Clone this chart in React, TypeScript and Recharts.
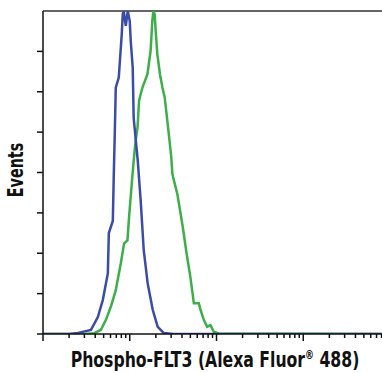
import { LineChart, Line, XAxis, YAxis, ReferenceLine } from "recharts";

// fluorescence intensity (x) and event counts (y)
const blueIntensity = [1, 2, 2.53, 3.57, 4.29, 4.89, 5.59, 5.74, 6.38, 6.55, 6.72, 6.9, 7.47, 8.09, 8.31, 8.53, 9.0, 9.49, 10, 10.27, 10.82, 11.1, 12.36, 13.37, 14.5, 16.1, 18.4, 21.0, 24.6, 32, 8000];
const blueEvents = [0, 0, 0.5, 2, 8.4, 16.8, 30, 50, 56, 79.5, 99, 122, 127, 148.6, 158.5, 160, 152.6, 160, 155, 145, 132, 107, 86, 66, 41.5, 25, 12, 3.5, 0.5, 0, 0];

const greenIntensity = [1, 3, 3.89, 4.64, 5.3, 6.05, 6.9, 7.88, 8.6, 9.41, 9.82, 10.54, 11.2, 11.7, 12.3, 12.8, 14.0, 16.0, 17.4, 18.2, 18.7, 19.4, 19.9, 20.8, 22.3, 23.8, 25.3, 27.1, 29.0, 30.1, 31.0, 32.3, 35.3, 38.6, 41.4, 45.2, 49.3, 53.0, 54.8, 62.6, 65.5, 71.5, 78.2, 85.3, 93.1, 106, 8000];
const greenEvents = [0, 0, 0.4, 2, 6.9, 13.5, 21.7, 34.9, 44.8, 46.4, 57.9, 74.4, 87.6, 95.8, 102.4, 115.6, 122.1, 128.7, 140.3, 155, 159.8, 158.4, 150.2, 138.6, 128.7, 122.1, 117.2, 105.7, 94.2, 87.6, 79.4, 76.1, 69.5, 59.6, 51.4, 39.9, 30, 20.1, 15.2, 15.2, 11.9, 6.9, 3.6, 4.4, 1.1, 0.3, 0];

const decades = [1, 10, 100, 1000];
const steps = [1, 2, 3, 4, 5, 6, 7, 8, 9];
const xTicks = decades.flatMap((d) => steps.map((s) => d * s));
const yTicks = [0, 20, 40, 60, 80, 100, 120, 140];

const blueData = blueIntensity.map((x, i) => ({ x, y: blueEvents[i] }));
const greenData = greenIntensity.map((x, i) => ({ x, y: greenEvents[i] }));

const FONT = "'Liberation Sans Narrow', 'DejaVu Sans Condensed', Arial, sans-serif";

function XTick(props: any) {
  const { x, y, payload } = props;
  const major = decades.includes(payload.value);
  return <line x1={x} x2={x} y1={y} y2={y + (major ? 7 : 4)} stroke="#111" strokeWidth={1.5} />;
}

function YTick(props: any) {
  const { x, y } = props;
  return <line x1={x - 6} x2={x} y1={y} y2={y} stroke="#111" strokeWidth={1.5} />;
}

// the original uses a condensed bold face, so squeeze the text horizontally
function XTitle() {
  return (
    <text transform="translate(215,367) scale(0.83,1)" textAnchor="middle" fontFamily={FONT} fontWeight="bold" fontSize={21} fill="#111">
      Phospho-FLT3 (Alexa Fluor
      <tspan fontSize={12} dy={-8}>®</tspan>
      <tspan dy={8}> 488)</tspan>
    </text>
  );
}

function YTitle() {
  return (
    <text transform="translate(23,170) rotate(-90) scale(0.76,1)" textAnchor="middle" fontFamily={FONT} fontWeight="bold" fontSize={21} fill="#111">
      Events
    </text>
  );
}

export default function App() {
  return (
    <div style={{ position: "absolute", left: 0, top: 0, background: "#fff" }}>
      <LineChart width={382} height={373} margin={{ top: 11, right: 0, left: 0, bottom: 0 }}>
        <XAxis
          type="number"
          dataKey="x"
          scale="log"
          domain={[1, 8090]}
          allowDataOverflow
          ticks={xTicks.filter((t) => t <= 8090)}
          interval={0}
          tick={<XTick />}
          tickLine={false}
          tickSize={0}
          tickMargin={0}
          height={39}
          axisLine={{ stroke: "#111", strokeWidth: 1.5 }}
          label={{ content: () => <XTitle /> }}
        />
        <YAxis
          type="number"
          dataKey="y"
          domain={[0, 160]}
          allowDataOverflow
          ticks={yTicks}
          interval={0}
          tick={<YTick />}
          tickLine={false}
          tickSize={0}
          tickMargin={0}
          width={43}
          axisLine={{ stroke: "#111", strokeWidth: 1.5 }}
          label={{ content: () => <YTitle /> }}
        />
        <ReferenceLine y={160} stroke="#333" strokeWidth={1.5} />
        <Line data={greenData} dataKey="y" type="linear" stroke="#3dae4a" strokeWidth={2.5} dot={false} isAnimationActive={false} />
        <Line data={blueData} dataKey="y" type="linear" stroke="#3a4ca8" strokeWidth={2.5} dot={false} isAnimationActive={false} />
      </LineChart>
    </div>
  );
}
